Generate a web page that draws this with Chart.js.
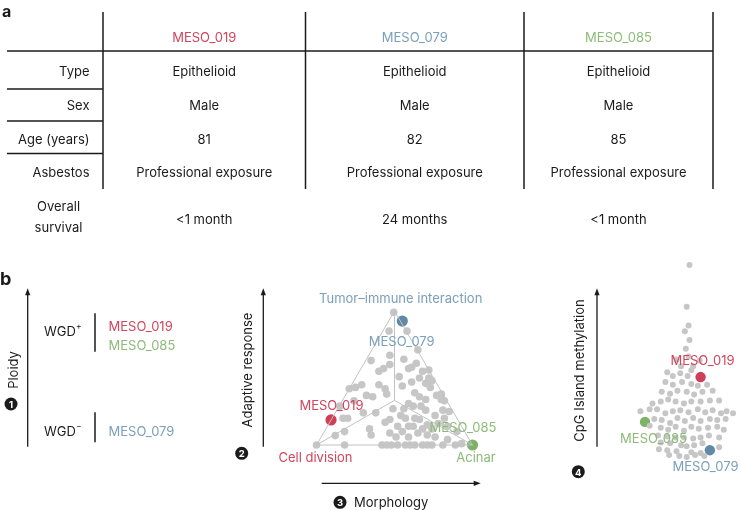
<!DOCTYPE html>
<html><head><meta charset="utf-8">
<script src="https://cdn.jsdelivr.net/npm/chart.js@4.4.1/dist/chart.umd.min.js"></script>
<style>
html,body{margin:0;padding:0;background:#fff;}
body{width:741px;height:510px;position:relative;overflow:hidden;font-family:Inter,'Liberation Sans',sans-serif;}
canvas{position:absolute;}
#ov{position:absolute;left:0;top:0;}
</style></head><body>
<canvas id="tern" width="235" height="190" style="left:270px;top:280px;width:235px;height:190px"></canvas>
<canvas id="swarm" width="141" height="220" style="left:600px;top:250px;width:141px;height:220px"></canvas>
<svg id="ov" width="741" height="510" xmlns="http://www.w3.org/2000/svg"></svg>
<script>
// ---------- DATA ----------
const SAMPLES = ['MESO_019', 'MESO_079', 'MESO_085'];
const ROW_LABELS = ['Type', 'Sex', 'Age (years)', 'Asbestos'];
const SURVIVAL_LABEL = ['Overall', 'survival'];
const TYPE = ['Epithelioid', 'Epithelioid', 'Epithelioid'];
const SEX = ['Male', 'Male', 'Male'];
const AGE = ['81', '82', '85'];
const ASBESTOS = ['Professional exposure', 'Professional exposure', 'Professional exposure'];
const SURVIVAL = ['<1 month', '24 months', '<1 month'];

const WGD_POSITIVE = ['MESO_019', 'MESO_085'];
const WGD_NEGATIVE = ['MESO_079'];

const TERNARY_VERTEX_LABELS = ['Tumor\u2013immune interaction', 'Cell division', 'Acinar'];
// [morphology (cell division -> acinar), adaptive response], 0-100
const TERNARY_VERTICES = [[0, 0], [100, 0], [50, 100]];
const BG_TERNARY = [[49.5,99],[47,67],[35,63],[47,60],[40,55],[43,57],[29,45],[25,43],[21,42],[44,42],[36,36],[45,38],
 [15,29],[17,20],[20,20],[47,19],[34,12],[35,7.5],[12,7],[18,10],[0,0],[18,0],[42,0],[48,0],[58,85],[65,71],[64,61],
 [59,57],[61,58],[68,55],[72,50],[72,56],[53,51],[55,44],[61,47],[74,48],[80,38],[63,39],[66,36],[70,34],[77,37],[80,34],
 [59,31],[62,29],[67,29],[70,26],[54,22],[57,20],[63,20],[66,19],[76,22],[78,16],[84,14],[52,14],[59,14],[62,14],[51,6],
 [59,6],[65,9],[71,7.5],[76,6],[89,0],[93,1],[52,0],[57,0],[60,0],[63,0],[68,0],[71,0],[32,37],[30,24],[44,17],[70,46],
 [73,43],[82,33],[85,25],[81,26],[82,20],[84,4],[90,10],[74,12],[71,15],[46.5,85],[45,0],[81,0],[74,0],
 [56,27],[49,27],[38,24],[24,33],[40,45],[56,64],[66,50],[55,10],[68,12],[47,9]];
const SAMPLE_MORPHOLOGY = [9.3, 55, 100];
const SAMPLE_ADAPTIVE = [18.7, 92.5, 0];

// [swarm offset, CpG island methylation]
const BG_SWARM = [[1,205],[-2,162],[0,143],[-4,137],[1,128],[-3,119],[0,111],[-13,108],[12,107],[-8,101],[5,101],
 [-23,95],[-17,91],[-9,94],[-1,91],[3,97],
 [-25,85],[-17,82],[-7,85],[3,83],[10,81],[20,82],
 [-29,75],[-20,73],[-12,76],[-2,75],[6,72],[15,75],[26,76],
 [-39,63],[-30,65],[-22,67],[-14,65],[-5,63],[3,65],[13,65],[23,66],[33,66],
 [-52,55],[-42,57],[-34,57],[-25,53],[-17,55],[-9,56],[0,54],[10,57],[18,54],[26,56],[35,53],[41,55],[48,53],
 [-37,47],[-29,46],[-20,43],[-12,48],[-4,45],[5,48],[13,45],[23,47],[31,46],[40,47],
 [-42,40],[-30,38],[-22,36],[-14,39],[-5,35],[3,39],[11,37],[21,38],[31,39],[38,36],
 [-33,30],[-23,29],[-14,28],[-5,28],[5,27],[13,28],[22,30],[33,28],
 [-30,23],[-20,22],[-8,20],[-2,19],[6,20],[15,22],[33,18],
 [-32,16],[-23,15],[-13,14],[3,13],[13,12],
 [-21,10],[-10,9],[-2,8],[7,10],[17,9]];
const SAMPLE_SWARM_OFFSET = [13, 23, -47];
const SAMPLE_METHYLATION = [90, 15, 44];

// ---------- STYLE ----------
const TEXT_COLORS = ['#D2455D', '#7BA0BC', '#8DBB78'];
const DOT_COLORS = ['#D03F58', '#5F89A7', '#7DB267'];
const GREY = '#C6C6C6';
const INK = '#1b1b1b';
const FONT = 'Inter, Liberation Sans, sans-serif';

// ---------- SVG overlay helpers ----------
const NS = 'http://www.w3.org/2000/svg';
const svg = document.getElementById('ov');
function el(tag, attrs, text) {
  const e = document.createElementNS(NS, tag);
  for (const k in attrs) e.setAttribute(k, attrs[k]);
  if (text != null) e.textContent = text;
  svg.appendChild(e);
  return e;
}
function txt(x, y, s, o = {}) {
  const a = {x, y, 'text-anchor': o.anchor || 'middle', 'dominant-baseline': 'central',
    'font-size': o.size || 13, 'font-weight': o.weight || 400, fill: o.color || INK, 'font-family': FONT};
  if (o.rotate) a.transform = `rotate(${o.rotate} ${x} ${y})`;
  return el('text', a, s);
}
function line(x1, y1, x2, y2, w = 1.5, c = INK) {
  el('line', {x1, y1, x2, y2, stroke: c, 'stroke-width': w});
}
function arrowUp(x, yb, yt) {
  line(x, yb, x, yt + 5, 1.3);
  el('polygon', {points: `${x - 2.6},${yt + 7} ${x + 2.6},${yt + 7} ${x},${yt}`, fill: INK});
}
function arrowRight(y, xl, xr) {
  line(xl, y, xr - 5, y, 1.3);
  el('polygon', {points: `${xr - 7},${y - 2.6} ${xr - 7},${y + 2.6} ${xr},${y}`, fill: INK});
}
function circled(x, y, n) {
  el('circle', {cx: x, cy: y, r: 6.5, fill: INK});
  txt(x, y + 0.5, String(n), {size: 9.5, weight: 700, color: '#fff'});
}

// ---------- Panel a: table ----------
el('text', {x: 2, y: 17, 'font-size': 16, 'font-weight': 700, fill: INK, 'font-family': FONT}, 'a');
const colX = [204.25, 414.75, 618.5];
[103, 305.5, 524, 713].forEach(x => line(x, 12, x, 189));
line(7, 51, 713, 51);
[89, 121, 153.5].forEach(y => line(7, y, 103, y));
SAMPLES.forEach((s, i) => txt(colX[i], 36.5, s, {color: TEXT_COLORS[i]}));
const rowY = [71, 105.3, 139, 172.3];
ROW_LABELS.forEach((l, r) => txt(89.5, rowY[r], l, {anchor: 'end'}));
txt(58.5, 206, SURVIVAL_LABEL[0]);
txt(58.5, 226.5, SURVIVAL_LABEL[1]);
[TYPE, SEX, AGE, ASBESTOS].forEach((row, r) => row.forEach((v, i) => txt(colX[i], rowY[r], v)));
SURVIVAL.forEach((v, i) => txt(colX[i], 219, v));

// ---------- Panel b1: ploidy ----------
el('text', {x: 0, y: 285, 'font-size': 18, 'font-weight': 700, fill: INK, 'font-family': FONT}, 'b');
arrowUp(27.7, 446.7, 288.3);
txt(12.7, 370, 'Ploidy', {rotate: -90});
circled(11, 404, 1);
function wgd(y, sign) {
  const t = txt(44, y, 'WGD', {anchor: 'start'});
  const sp = document.createElementNS(NS, 'tspan');
  sp.setAttribute('dy', -5); sp.setAttribute('font-size', 8.5); sp.textContent = sign;
  t.appendChild(sp);
}
wgd(331, '+');
wgd(431, '\u2212');
line(95, 313.3, 95, 351.7);
line(95, 412.3, 95, 442.3);
WGD_POSITIVE.forEach((s, i) => txt(108.5, 326 + i * 19, s, {anchor: 'start', color: TEXT_COLORS[SAMPLES.indexOf(s)]}));
WGD_NEGATIVE.forEach((s, i) => txt(108.5, 431 + i * 19, s, {anchor: 'start', color: TEXT_COLORS[SAMPLES.indexOf(s)]}));

// ---------- Panel b2: ternary ----------
arrowUp(263.3, 446.7, 288.3);
txt(246.7, 370, 'Adaptive response', {rotate: -90});
circled(241.7, 453.3, 2);
arrowRight(483.3, 321.7, 480.7);
circled(340, 502.3, 3);
txt(354, 502.3, 'Morphology', {anchor: 'start'});
txt(400.7, 297.7, TERNARY_VERTEX_LABELS[0], {color: TEXT_COLORS[1]});
txt(315.5, 457.3, TERNARY_VERTEX_LABELS[1], {color: TEXT_COLORS[0]});
txt(476, 457.3, TERNARY_VERTEX_LABELS[2], {color: TEXT_COLORS[2]});
txt(331.5, 405, SAMPLES[0], {color: TEXT_COLORS[0]});
txt(401.7, 340.7, SAMPLES[1], {color: TEXT_COLORS[1]});
txt(463, 426.7, SAMPLES[2], {color: TEXT_COLORS[2]});

// ---------- Panel b3: swarm ----------
arrowUp(597, 446.7, 288.3);
txt(579, 370.5, 'CpG Island methylation', {rotate: -90});
circled(578.3, 471.7, 4);
txt(702.5, 360, SAMPLES[0], {color: TEXT_COLORS[0]});
txt(705.5, 466, SAMPLES[1], {color: TEXT_COLORS[1]});
txt(653.5, 437.7, SAMPLES[2], {color: TEXT_COLORS[2]});

// ---------- Charts ----------
const common = {
  responsive: false, animation: false, devicePixelRatio: 1, events: [],
  plugins: {legend: {display: false}, tooltip: {enabled: false}}
};
const V = TERNARY_VERTICES.map(v => ({x: v[0], y: v[1]}));
const C = {x: (V[0].x + V[1].x + V[2].x) / 3, y: (V[0].y + V[1].y + V[2].y) / 3};
const lineDs = pts => ({data: pts, showLine: true, borderColor: '#C2C2C2', borderWidth: 1, pointRadius: 0, fill: false, clip: false});
const ternDatasets = [
  lineDs([V[0], V[1], V[2], V[0]]),
  lineDs([V[0], C, V[1]]),
  lineDs([C, V[2]]),
  {data: BG_TERNARY.map(p => ({x: p[0], y: p[1]})), pointRadius: 3.8, backgroundColor: GREY, borderWidth: 0, clip: false}
];
SAMPLES.forEach((s, i) => ternDatasets.push({label: s, data: [{x: SAMPLE_MORPHOLOGY[i], y: SAMPLE_ADAPTIVE[i]}],
  pointRadius: 5.6, backgroundColor: DOT_COLORS[i], borderWidth: 0, clip: false}));
new Chart(document.getElementById('tern'), {
  type: 'scatter', data: {datasets: ternDatasets},
  options: Object.assign({}, common, {
    layout: {padding: {left: 46.5, right: 32.5, top: 31, bottom: 25}},
    scales: {x: {type: 'linear', min: 0, max: 100, display: false}, y: {type: 'linear', min: 0, max: 100, display: false}}
  })
});

const swarmDatasets = [{data: BG_SWARM.map(p => ({x: p[0], y: p[1]})), pointRadius: 3.0, backgroundColor: GREY, borderWidth: 0, clip: false}];
SAMPLES.forEach((s, i) => swarmDatasets.push({label: s, data: [{x: SAMPLE_SWARM_OFFSET[i], y: SAMPLE_METHYLATION[i]}],
  pointRadius: 5.2, backgroundColor: DOT_COLORS[i], borderWidth: 0, clip: false}));
new Chart(document.getElementById('swarm'), {
  type: 'scatter', data: {datasets: swarmDatasets},
  options: Object.assign({}, common, {
    layout: {padding: {left: 0, right: 0, top: 0, bottom: 5}},
    scales: {x: {type: 'linear', min: -90, max: 51, display: false}, y: {type: 'linear', min: 0, max: 215, display: false}}
  })
});
</script>
</body></html>
